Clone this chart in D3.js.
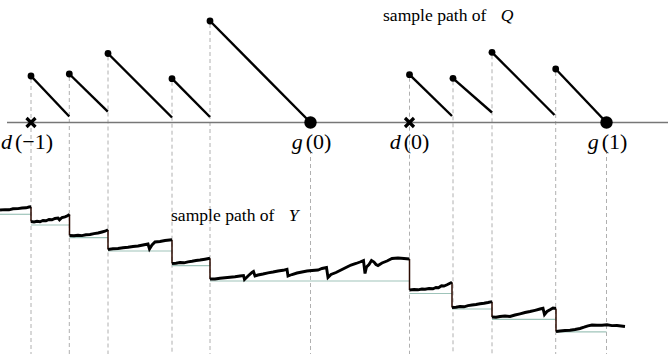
<!DOCTYPE html>
<html lang="en">
<head>
<meta charset="UTF-8">
<title>sample paths of Q and Y</title>
<script src="https://cdn.jsdelivr.net/npm/d3@7"></script>
<style>
  body { margin: 0; background: #fff; }
  svg { display: block; }
  .axis { stroke: #777; stroke-width: 1.5; }
  .guide { stroke: #b0b0b0; stroke-width: 1; stroke-dasharray: 4,3; }
  .qseg { stroke: #000; stroke-width: 2.4; }
  .ypath { fill: none; stroke: #000; stroke-width: 2.9; stroke-linejoin: miter; }
  .yjump { stroke: #2b0a00; stroke-width: 1.5; }
  .ybase { stroke: #9fc4ba; stroke-width: 1.2; }
  text { font-family: "Liberation Serif", "DejaVu Serif", serif; fill: #000; }
</style>
</head>
<body>
<div id="chart"></div>
<script>
  // Q: each jump epoch, the value right after it, and where the drain ends
  var qStartT = [3.1, 6.93, 10.8, 17.2, 21.0, 40.95, 45.3, 49.2, 55.57];
  var qEndT = [6.93, 10.78, 17.2, 21.0, 31.05, 45.2, 49.2, 55.45, 60.65];
  var qTop = [4.65, 4.85, 6.9, 4.38, 10.15, 4.78, 4.42, 7.02, 5.35];
  var qEnd = [0.6, 1.08, 0.5, 0.55, 0, 0.65, 1.0, 0.75, 0];

  // d(n) and g(n) epochs
  var dT = [3.1, 40.95];
  var dNames = ['\u22121', '0'];
  var gT = [31.05, 60.65];
  var gNames = ['0', '1'];

  // Y: one list of [t, value] per interval between jumps
  var yPaths = [
    [[0, 13.0], [0.5, 13.04], [0.9, 13.02], [1.3, 13.12], [1.8, 13.14], [2.2, 13.2], [2.6, 13.22], [2.9, 13.3], [3.1, 13.32]],
    [[3.1, 11.85], [3.4, 11.8], [3.7, 11.87], [4.0, 11.82], [4.3, 11.95], [4.6, 11.92], [4.9, 12.05], [5.2, 12.02], [5.5, 12.15],
      [5.8, 12.2], [5.95, 12.02], [6.2, 12.25], [6.5, 12.32], [6.8, 12.45], [6.95, 12.57]],
    [[6.95, 10.45], [7.4, 10.42], [7.8, 10.48], [8.2, 10.44], [8.6, 10.52], [9.0, 10.55], [9.4, 10.64], [9.8, 10.7], [10.2, 10.8],
      [10.5, 10.88], [10.8, 11.02]],
    [[10.8, 9.05], [11.3, 9.12], [11.8, 9.15], [12.3, 9.22], [12.8, 9.27], [13.3, 9.35], [13.8, 9.4], [14.3, 9.5], [14.8, 9.6],
      [14.95, 9.1], [15.2, 9.5], [15.5, 9.8], [16.0, 9.85], [16.5, 9.95], [17.2, 10.02]],
    [[17.2, 7.65], [17.6, 7.68], [18.0, 7.75], [18.4, 7.72], [18.8, 7.82], [19.2, 7.88], [19.6, 7.95], [20.0, 8.0], [20.5, 8.08], [21.0, 8.17]],
    [[21.0, 6.1], [21.5, 6.1], [22.0, 6.18], [22.5, 6.22], [23.0, 6.27], [23.5, 6.32], [24.0, 6.4], [24.35, 6.45], [24.45, 6.05],
      [24.8, 6.4], [25.2, 6.75], [25.35, 6.85], [25.5, 6.4], [25.8, 6.5], [26.3, 6.6], [26.8, 6.72], [27.3, 6.8], [27.8, 6.9],
      [28.3, 6.97], [28.7, 7.07], [28.8, 6.4], [29.2, 6.55], [29.7, 6.7], [30.2, 6.8], [30.7, 6.9], [31.2, 6.95], [31.8, 7.0],
      [32.2, 7.15], [32.65, 7.25], [32.8, 6.25], [33.1, 6.55], [33.6, 6.75], [34.1, 7.0], [34.6, 7.25], [35.1, 7.5], [35.6, 7.65],
      [36.0, 7.8], [36.35, 7.95], [36.5, 6.65], [36.65, 7.3], [36.9, 7.55], [37.15, 7.95], [37.4, 7.8], [37.6, 7.55], [37.8, 7.45],
      [38.2, 7.7], [38.7, 7.9], [39.2, 8.15], [39.8, 8.2], [40.4, 8.15], [40.95, 8.1]],
    [[40.95, 5.0], [41.4, 5.05], [41.8, 5.02], [42.2, 5.1], [42.5, 5.08], [42.9, 5.15], [43.3, 5.12], [43.6, 5.25], [43.85, 5.22],
      [44.15, 5.43], [44.4, 5.4], [44.7, 5.52], [45.2, 5.77]],
    [[45.2, 3.25], [45.6, 3.28], [46.0, 3.35], [46.4, 3.32], [46.8, 3.44], [47.2, 3.5], [47.6, 3.55], [48.0, 3.62], [48.4, 3.68],
      [48.8, 3.75], [49.2, 3.83]],
    [[49.2, 2.3], [49.6, 2.28], [50.0, 2.35], [50.5, 2.4], [51.0, 2.35], [51.5, 2.5], [52.0, 2.62], [52.5, 2.75], [53.0, 2.85],
      [53.5, 2.97], [54.0, 3.1], [54.3, 3.17], [54.45, 2.55], [54.7, 2.85], [55.0, 3.02], [55.3, 3.2], [55.6, 3.15]],
    [[55.6, 0.85], [56.0, 0.9], [56.5, 0.95], [57.0, 0.98], [57.5, 1.05], [58.0, 1.15], [58.4, 1.28], [58.8, 1.42], [59.2, 1.5],
      [59.7, 1.48], [60.2, 1.47], [60.7, 1.52], [61.2, 1.44], [61.7, 1.45], [62.1, 1.4], [62.5, 1.35]]
  ];

  // thin reference levels under Y
  var baseT0 = [0, 3.1, 6.95, 10.8, 17.2, 21.0, 40.95, 45.2, 49.2, 55.6];
  var baseT1 = [3.1, 6.95, 10.8, 17.2, 21.0, 40.95, 45.2, 49.2, 55.6, 60.65];
  var baseV = [12.57, 11.5, 10.23, 8.9, 7.43, 5.9, 4.65, 3.1, 2.07, 0.82];

  var width = 668, height = 358;
  var svg = d3.select('#chart').append('svg')
    .attr('width', width)
    .attr('height', height);

  var x = d3.scaleLinear().domain([0, 66.8]).range([0, 668]);
  var q = d3.scaleLinear().domain([0, 10]).range([122.5, 22.5]);
  var y = d3.scaleLinear().domain([0, 13]).range([340, 210]);

  // dashed guides: from the jump dots (or under the g labels) to the bottom
  var guides = qStartT.map(function (t, i) { return { t: t, top: q(qTop[i]) + 3 }; })
    .concat(gT.map(function (t) { return { t: t, top: 150 }; }));
  svg.selectAll('line.guide')
    .data(guides)
    .enter()
    .append('line')
    .attr('class', 'guide')
    .attr('x1', function (d) { return x(d.t); })
    .attr('x2', function (d) { return x(d.t); })
    .attr('y1', function (d) { return d.top; })
    .attr('y2', 354);

  // time axis of Q
  svg.append('line')
    .attr('class', 'axis')
    .attr('x1', x(0.7)).attr('x2', x(66.8))
    .attr('y1', q(0)).attr('y2', q(0));

  // Q drain segments
  svg.selectAll('line.qseg')
    .data(qStartT)
    .enter()
    .append('line')
    .attr('class', 'qseg')
    .attr('x1', function (d) { return x(d); })
    .attr('y1', function (d, i) { return q(qTop[i]); })
    .attr('x2', function (d, i) { return x(qEndT[i]); })
    .attr('y2', function (d, i) { return q(qEnd[i]); });

  svg.selectAll('circle.qdot')
    .data(qStartT)
    .enter()
    .append('circle')
    .attr('class', 'qdot')
    .attr('cx', function (d) { return x(d); })
    .attr('cy', function (d, i) { return q(qTop[i]); })
    .attr('r', 3.4);

  // g(n): big dots
  svg.selectAll('circle.gdot')
    .data(gT)
    .enter()
    .append('circle')
    .attr('class', 'gdot')
    .attr('cx', function (d) { return x(d); })
    .attr('cy', q(0))
    .attr('r', 6.2);

  // d(n): crosses
  var cross = svg.selectAll('g.cross')
    .data(dT)
    .enter()
    .append('g')
    .attr('class', 'cross')
    .attr('transform', function (d) { return 'translate(' + x(d) + ',' + q(0) + ')'; });
  cross.append('path')
    .attr('d', 'M-4.5,-4.5L4.5,4.5M-4.5,4.5L4.5,-4.5')
    .attr('stroke', '#000')
    .attr('stroke-width', 3.2);

  // labels under the axis
  function addLabel(letter, arg, t, dx) {
    var tx = svg.append('text')
      .attr('x', x(t) + dx)
      .attr('y', 149)
      .attr('text-anchor', 'middle')
      .style('font-size', '22px');
    tx.append('tspan').style('font-style', 'italic').text(letter);
    tx.append('tspan').attr('dx', 3).text('(' + arg + ')');
  }
  dT.forEach(function (t, i) { addLabel('d', dNames[i], t, i === 0 ? -4 : 0); });
  gT.forEach(function (t, i) { addLabel('g', gNames[i], t, 1); });

  // Y sample path
  svg.selectAll('line.ybase')
    .data(baseV)
    .enter()
    .append('line')
    .attr('class', 'ybase')
    .attr('x1', function (d, i) { return x(baseT0[i]); })
    .attr('x2', function (d, i) { return x(baseT1[i]); })
    .attr('y1', function (d) { return y(d); })
    .attr('y2', function (d) { return y(d); });

  var jumps = yPaths.slice(1).map(function (p, i) {
    var prev = yPaths[i];
    return { t: p[0][0], from: prev[prev.length - 1][1], to: p[0][1] };
  });
  svg.selectAll('line.yjump')
    .data(jumps)
    .enter()
    .append('line')
    .attr('class', 'yjump')
    .attr('x1', function (d) { return x(d.t); })
    .attr('x2', function (d) { return x(d.t); })
    .attr('y1', function (d) { return y(d.from); })
    .attr('y2', function (d) { return y(d.to); });

  var line = d3.line()
    .x(function (d) { return x(d[0]); })
    .y(function (d) { return y(d[1]); });
  svg.selectAll('path.ypath')
    .data(yPaths)
    .enter()
    .append('path')
    .attr('class', 'ypath')
    .attr('d', line);

  // captions
  function caption(xp, yp, name) {
    var tx = svg.append('text')
      .attr('x', xp)
      .attr('y', yp)
      .style('font-size', '16px')
      .attr('transform', 'translate(' + xp + ',0) scale(1.1,1) translate(' + (-xp) + ',0)');
    tx.append('tspan').text('sample path of');
    tx.append('tspan').attr('dx', 13).style('font-style', 'italic').text(name);
  }
  caption(383, 20.7, 'Q');
  caption(171, 220.7, 'Y');
</script>
</body>
</html>
